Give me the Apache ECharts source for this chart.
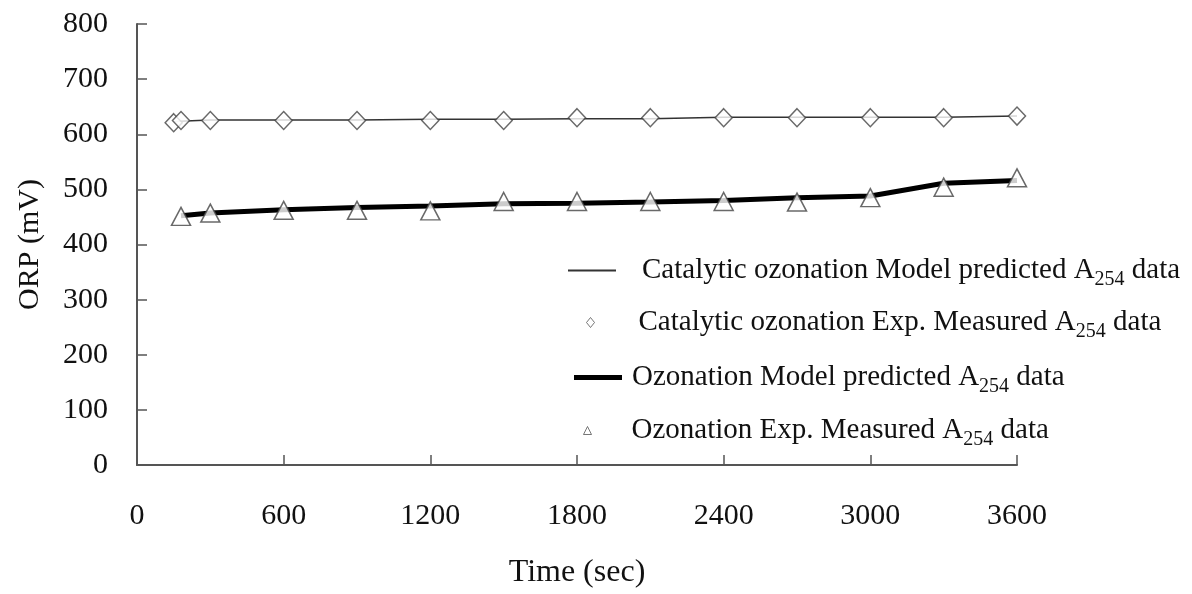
<!DOCTYPE html>
<html>
<head>
<meta charset="utf-8">
<script src="https://cdn.jsdelivr.net/npm/echarts@6/dist/echarts.min.js"></script>
<style>
  html, body { margin: 0; padding: 0; background: #fff; }
  #chart { width: 1192px; height: 594px; }
</style>
</head>
<body>
<div id="chart"></div>
<script>
// time axis ticks
const xTicks = [0, 600, 1200, 1800, 2400, 3000, 3600];
const yTicks = [0, 100, 200, 300, 400, 500, 600, 700, 800];

// catalytic ozonation
const catExpTime = [150, 180, 300, 600, 900, 1200, 1500, 1800, 2100, 2400, 2700, 3000, 3300, 3600];
const catExpOrp = [621, 625, 625, 625, 625, 625, 625, 630, 630, 630, 630, 630, 630, 633];
const catModelTime = [150, 300, 600, 900, 1200, 1500, 1800, 2100, 2400, 2700, 3000, 3300, 3600];
const catModelOrp = [623, 626, 626, 626, 627, 627, 628, 628, 631, 631, 631, 631, 633];

// ozonation
const ozTime = [180, 300, 600, 900, 1200, 1500, 1800, 2100, 2400, 2700, 3000, 3300, 3600];
const ozExpOrp = [451, 457, 462, 462, 461, 478, 478, 478, 478, 477, 485, 504, 521];
const ozModelOrp = [452, 457, 463, 467, 470, 474, 475, 477, 480, 485, 488, 511, 516];

const names = [
  'Catalytic ozonation Model predicted A254 data',
  'Catalytic ozonation Exp. Measured A254 data',
  'Ozonation Model predicted A254 data',
  'Ozonation Exp. Measured A254 data'
];

const serif = 'Liberation Serif';
const zip = (xs, ys) => xs.map((x, i) => [x, ys[i]]);

// one legend per entry, so each icon gets its own size
function makeLegend(name, opts) {
  return {
    data: [name],
    left: opts.left,
    top: opts.top,
    orient: 'vertical',
    icon: opts.icon,
    itemWidth: opts.w,
    itemHeight: opts.h,
    itemStyle: opts.itemStyle,
    selectedMode: false,
    formatter: n => '{' + opts.gap + '|}' + n.replace('A254', 'A{sub|254}'),
    textStyle: {
      fontFamily: serif,
      fontSize: 29,
      color: '#111',
      rich: {
        g1: { width: 21 },
        g2: { width: 39 },
        g3: { width: 5 },
        g4: { width: 35 },
        sub: { fontFamily: serif, fontSize: 20, color: '#111', verticalAlign: 'bottom', lineHeight: 39 }
      }
    }
  };
}

const chart = echarts.init(document.getElementById('chart'));

chart.setOption({
  backgroundColor: '#fff',
  animation: false,
  grid: { left: 137, right: 175, top: 24, bottom: 128 },
  legend: [
    makeLegend(names[0], { left: 563, top: 251, icon: 'rect', w: 48, h: 2, gap: 'g1',
      itemStyle: { color: '#333' } }),
    makeLegend(names[1], { left: 581, top: 303, icon: 'diamond', w: 8, h: 10, gap: 'g2',
      itemStyle: { color: '#fff', borderColor: '#555', borderWidth: 1 } }),
    makeLegend(names[2], { left: 569, top: 358, icon: 'rect', w: 48, h: 5, gap: 'g3',
      itemStyle: { color: '#000' } }),
    makeLegend(names[3], { left: 578, top: 411, icon: 'triangle', w: 8, h: 8, gap: 'g4',
      itemStyle: { color: '#fff', borderColor: '#555', borderWidth: 1 } })
  ],
  xAxis: {
    type: 'value',
    min: xTicks[0],
    max: xTicks[xTicks.length - 1],
    interval: xTicks[1] - xTicks[0],
    name: 'Time (sec)',
    nameLocation: 'middle',
    nameGap: 92,
    nameTextStyle: { fontFamily: serif, fontSize: 32, color: '#111' },
    axisLine: { lineStyle: { color: '#555', width: 2 } },
    axisTick: { inside: true, length: 10, lineStyle: { color: '#555', width: 1.5 } },
    axisLabel: { fontFamily: serif, fontSize: 30, color: '#111', margin: 36, formatter: v => String(v) },
    splitLine: { show: false }
  },
  yAxis: {
    type: 'value',
    min: yTicks[0],
    max: yTicks[yTicks.length - 1],
    interval: yTicks[1] - yTicks[0],
    name: 'ORP (mV)',
    nameLocation: 'middle',
    nameGap: 92,
    nameTextStyle: { fontFamily: serif, fontSize: 30, color: '#111' },
    axisLine: { lineStyle: { color: '#555', width: 2 } },
    axisTick: { inside: true, length: 10, lineStyle: { color: '#555', width: 1.5 } },
    axisLabel: { fontFamily: serif, fontSize: 30, color: '#111', margin: 29, formatter: v => String(v) },
    splitLine: { show: false }
  },
  series: [
    {
      name: names[0],
      type: 'line',
      data: zip(catModelTime, catModelOrp),
      showSymbol: false,
      symbol: 'none',
      color: '#333',
      lineStyle: { color: '#333', width: 1.5 },
      z: 2
    },
    {
      name: names[2],
      type: 'line',
      data: zip(ozTime, ozModelOrp),
      showSymbol: false,
      symbol: 'none',
      color: '#000',
      lineStyle: { color: '#000', width: 5 },
      z: 2
    },
    {
      name: names[1],
      type: 'scatter',
      data: zip(catExpTime, catExpOrp),
      symbol: 'diamond',
      symbolSize: [17, 18],
      itemStyle: { color: '#fff', borderColor: '#444', borderWidth: 1.5 },
      z: 3
    },
    {
      name: names[3],
      type: 'scatter',
      data: zip(ozTime, ozExpOrp),
      symbol: 'triangle',
      symbolSize: [19, 18],
      itemStyle: { color: '#fff', borderColor: '#444', borderWidth: 1.5 },
      z: 3
    }
  ]
});
</script>
</body>
</html>
